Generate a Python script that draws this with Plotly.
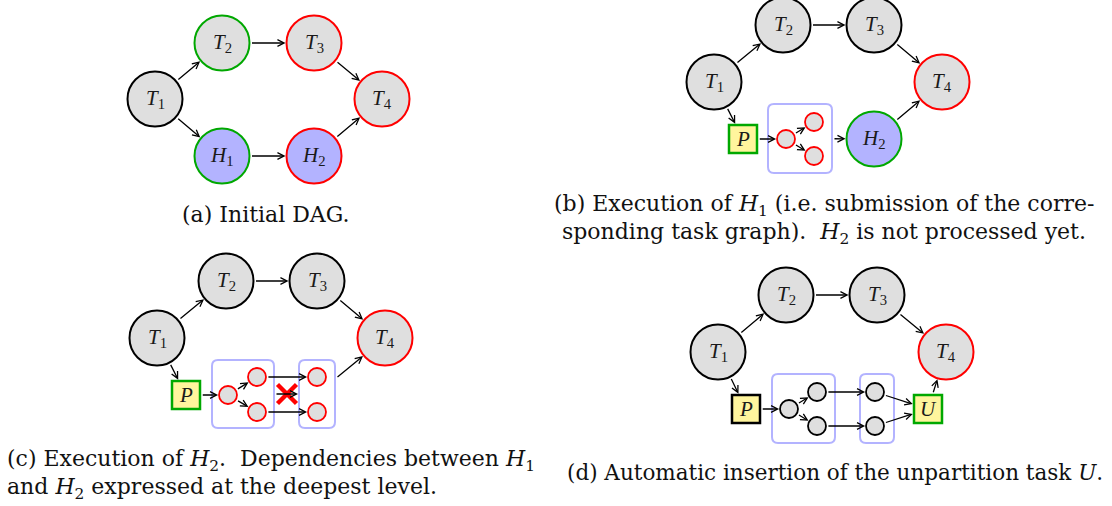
import math
import plotly.graph_objects as go

W, H = 1112, 506

# ---------------- data (diagram layout) ----------------
# Panel (a): initial DAG
a_names = ["T1", "T2", "T3", "T4", "H1", "H2"]
a_x = [155, 222, 314, 382, 222, 314]
a_y = [99, 43, 43, 99, 156, 156]
a_kind = ["B", "B", "B", "B", "B", "B"]
a_fill = ["gray", "gray", "gray", "gray", "blue", "blue"]
a_line = ["black", "green", "red", "red", "green", "red"]
a_edges = [("T1", "T2"), ("T1", "H1"), ("T2", "T3"), ("H1", "H2"), ("T3", "T4"), ("H2", "T4")]

# Panel (b): execution of H1
b_names = ["T1", "T2", "T3", "T4", "H2", "P", "X1", "s1", "s2", "s3"]
b_x = [714, 783, 874, 942, 874, 743, 800, 786, 814, 814]
b_y = [82, 25, 25, 82, 139, 139, 138.5, 139, 122, 156]
b_kind = ["B", "B", "B", "B", "B", "q", "r", "s", "s", "s"]
b_fill = ["gray", "gray", "gray", "gray", "blue", "yellow", "none", "gray", "gray", "gray"]
b_line = ["black", "black", "black", "red", "green", "green", "lblue", "red", "red", "red"]
b_edges = [("T1", "T2"), ("T2", "T3"), ("T3", "T4"), ("H2", "T4"), ("T1", "P"),
           ("P", "s1"), ("s1", "s2"), ("s1", "s3"), ("X1", "H2")]
b_boxes = {"X1": (64, 69)}

# Panel (c): execution of H2
c_names = ["T1", "T2", "T3", "T4", "P", "X1", "X2", "s1", "s2", "s3", "s4", "s5"]
c_x = [157, 226, 317, 385, 186, 243, 317, 228, 257, 257, 317, 317]
c_y = [338, 281, 281, 338, 395, 394, 394, 395, 377, 412, 377, 412]
c_kind = ["B", "B", "B", "B", "q", "r", "r", "s", "s", "s", "s", "s"]
c_fill = ["gray", "gray", "gray", "gray", "yellow", "none", "none", "gray", "gray", "gray", "gray", "gray"]
c_line = ["black", "black", "black", "red", "green", "lblue", "lblue", "red", "red", "red", "red", "red"]
c_edges = [("T1", "T2"), ("T2", "T3"), ("T3", "T4"), ("T1", "P"), ("P", "s1"),
           ("s1", "s2"), ("s1", "s3"), ("s2", "s4"), ("s3", "s5"), ("X1", "X2"), ("X2", "T4")]
c_boxes = {"X1": (62, 68), "X2": (36, 68)}
c_cross = (287, 394)

# Panel (d): automatic insertion of U
d_names = ["T1", "T2", "T3", "T4", "P", "X1", "X2", "s1", "s2", "s3", "s4", "s5", "U"]
d_x = [718, 786, 877, 946, 746, 803.5, 877, 789, 817, 817, 875, 875, 928]
d_y = [352, 295, 295, 352, 409, 408.5, 408.5, 409, 392, 426, 392, 426, 409]
d_kind = ["B", "B", "B", "B", "q", "r", "r", "s", "s", "s", "s", "s", "q"]
d_fill = ["gray", "gray", "gray", "gray", "yellow", "none", "none", "gray", "gray", "gray", "gray", "gray", "yellow"]
d_line = ["black", "black", "black", "red", "black", "lblue", "lblue", "black", "black", "black", "black", "black", "green"]
d_edges = [("T1", "T2"), ("T2", "T3"), ("T3", "T4"), ("T1", "P"), ("P", "s1"),
           ("s1", "s2"), ("s1", "s3"), ("s2", "s4"), ("s3", "s5"),
           ("s4", "U"), ("s5", "U"), ("U", "T4")]
d_boxes = {"X1": (63, 69), "X2": (34, 69)}

# Captions
cap_a = ["(a) Initial DAG."]
cap_b = ["(b) Execution of <i>H</i><sub>1</sub> (i.e. submission of the corre-",
         "sponding task graph).  <i>H</i><sub>2</sub> is not processed yet."]
cap_c = ["(c) Execution of <i>H</i><sub>2</sub>.  Dependencies between <i>H</i><sub>1</sub>",
         "and <i>H</i><sub>2</sub> expressed at the deepest level."]
cap_d = ["(d) Automatic insertion of the unpartition task <i>U</i>."]

# ---------------- styles ----------------
FILL = {"gray": "#dfdfdf", "blue": "#b3b3ff", "yellow": "#fff59d", "none": "rgba(0,0,0,0)"}
LINE = {"black": "#000000", "green": "#00a800", "red": "#ff0000", "lblue": "#b3b3ff"}
R_BIG, R_SMALL, HALF_SQ = 27.5, 9, 14
LW_BIG, LW_SMALL, LW_SQ, LW_BOX = 2, 1.8, 2.5, 2
CAP_FONT = dict(family="DejaVu Serif", size=22, color="#111111")
CAP_FONT_D = dict(family="DejaVu Serif", size=21.5, color="#111111")
NODE_FONT = dict(family="Liberation Serif", size=21, color="#1a1a1a")

fig = go.Figure()
shapes, annots = [], []


def label_of(name, kind):
    if kind == "B":
        return f"<i>{name[0]}</i><sub>{name[1:]}</sub>"
    if kind == "q":
        return f"<i>{name}</i>"
    return ""


def rrect_path(x0, y0, x1, y1, r):
    return (f"M{x0+r},{y0} L{x1-r},{y0} Q{x1},{y0} {x1},{y0+r} L{x1},{y1-r} "
            f"Q{x1},{y1} {x1-r},{y1} L{x0+r},{y1} Q{x0},{y1} {x0},{y1-r} "
            f"L{x0},{y0+r} Q{x0},{y0} {x0+r},{y0} Z")


def draw_panel(names, xs, ys, kinds, fills, lines, edges, boxes=None):
    boxes = boxes or {}
    geo = {}
    for n, x, y, k, f, l in zip(names, xs, ys, kinds, fills, lines):
        if k == "B":
            r = R_BIG
            shapes.append(dict(type="circle", xref="x", yref="y", x0=x - r, x1=x + r, y0=y - r, y1=y + r,
                               fillcolor=FILL[f], line=dict(color=LINE[l], width=LW_BIG), layer="above"))
            geo[n] = ("c", x, y, r + LW_BIG / 2)
        elif k == "s":
            r = R_SMALL
            shapes.append(dict(type="circle", xref="x", yref="y", x0=x - r, x1=x + r, y0=y - r, y1=y + r,
                               fillcolor=FILL[f], line=dict(color=LINE[l], width=LW_SMALL), layer="above"))
            geo[n] = ("c", x, y, r + LW_SMALL / 2)
        elif k == "q":
            h = HALF_SQ
            shapes.append(dict(type="rect", xref="x", yref="y", x0=x - h, x1=x + h, y0=y - h, y1=y + h,
                               fillcolor=FILL[f], line=dict(color=LINE[l], width=LW_SQ), layer="above"))
            geo[n] = ("r", x, y, h + LW_SQ / 2, h + LW_SQ / 2)
        elif k == "r":
            bw, bh = boxes[n]
            shapes.append(dict(type="path", xref="x", yref="y",
                               path=rrect_path(x - bw / 2, y - bh / 2, x + bw / 2, y + bh / 2, 6),
                               fillcolor=FILL[f], line=dict(color=LINE[l], width=LW_BOX), layer="below"))
            geo[n] = ("r", x, y, bw / 2 + LW_BOX / 2, bh / 2 + LW_BOX / 2)
        lab = label_of(n, k)
        if lab:
            annots.append(dict(x=x, y=y, xref="x", yref="y", text=lab, showarrow=False,
                               font=NODE_FONT, xanchor="center", yanchor="middle"))

    def bnd(n, tx, ty):
        g = geo[n]
        x, y = g[1], g[2]
        dx, dy = tx - x, ty - y
        if g[0] == "c":
            d = math.hypot(dx, dy)
            return x + dx / d * g[3], y + dy / d * g[3]
        t = min(g[3] / abs(dx) if dx else 1e9, g[4] / abs(dy) if dy else 1e9)
        return x + dx * t, y + dy * t

    for s, t in edges:
        sx, sy = geo[s][1], geo[s][2]
        tx, ty = geo[t][1], geo[t][2]
        x0, y0 = bnd(s, tx, ty)
        x1, y1 = bnd(t, sx, sy)
        annots.append(dict(x=x1, y=y1, ax=x0, ay=y0, xref="x", yref="y", axref="x", ayref="y",
                           text="", showarrow=True, arrowhead=5, arrowsize=1, arrowwidth=1.3,
                           arrowcolor="#000000", standoff=0, startstandoff=0))


draw_panel(a_names, a_x, a_y, a_kind, a_fill, a_line, a_edges)
draw_panel(b_names, b_x, b_y, b_kind, b_fill, b_line, b_edges, b_boxes)
draw_panel(c_names, c_x, c_y, c_kind, c_fill, c_line, c_edges, c_boxes)
draw_panel(d_names, d_x, d_y, d_kind, d_fill, d_line, d_edges, d_boxes)

# red cross on the H1->H2 dependency
cx, cy = c_cross
cs = 9.5
for sgn in (1, -1):
    shapes.append(dict(type="line", xref="x", yref="y", x0=cx - cs, y0=cy - sgn * cs,
                       x1=cx + cs, y1=cy + sgn * cs, line=dict(color="#ff0000", width=4.5), layer="above"))

# captions
cap_annots = [
    dict(x=266, y=214, text=cap_a[0], xanchor="center", font=CAP_FONT),
    dict(x=824, y=205, text=cap_b[0], xanchor="center", font=CAP_FONT),
    dict(x=824, y=233, text=cap_b[1], xanchor="center", font=CAP_FONT),
    dict(x=5, y=460, text=cap_c[0], xanchor="left", font=CAP_FONT),
    dict(x=5, y=488, text=cap_c[1], xanchor="left", font=CAP_FONT),
    dict(x=565, y=472, text=cap_d[0], xanchor="left", font=CAP_FONT_D),
]
for a in cap_annots:
    a.update(xref="x", yref="y", showarrow=False, yanchor="middle")
annots.extend(cap_annots)

fig.update_layout(
    width=W, height=H, margin=dict(l=0, r=0, t=0, b=0),
    paper_bgcolor="white", plot_bgcolor="white",
    xaxis=dict(range=[0, W], visible=False, fixedrange=True),
    yaxis=dict(range=[H, 0], visible=False, fixedrange=True),
    shapes=shapes, annotations=annots, showlegend=False,
)
fig.write_html("out.html", config={"displayModeBar": False},
               post_script="document.body.style.margin='0';document.body.style.overflow='hidden';")
